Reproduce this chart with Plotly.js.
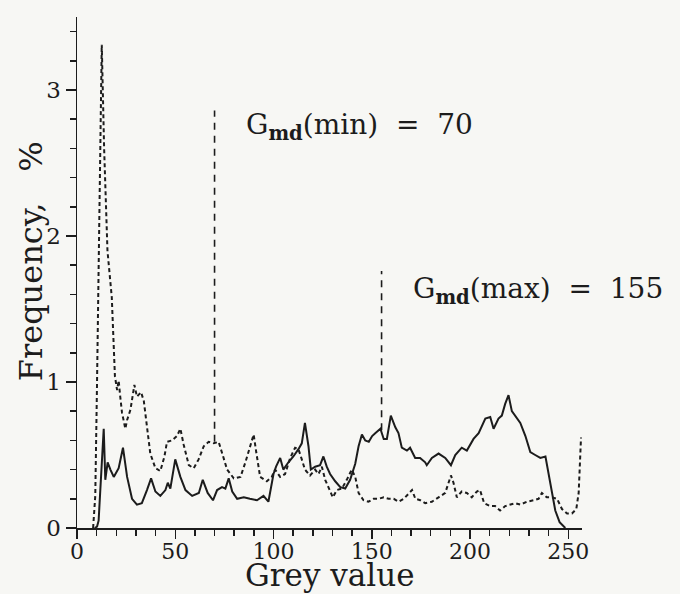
<!DOCTYPE html>
<html>
<head>
<meta charset="utf-8">
<script src="https://cdn.plot.ly/plotly-3.0.1.min.js"></script>
<style>html,body{margin:0;padding:0;background:#f7f7f4;}</style>
</head>
<body>
<div id="chart" style="width:680px;height:594px;"></div>
<script>
// Solid curve (grey value, frequency %)
const solidX = [9,10.2,11,12,13,13.6,14.4,15.6,17,18.7,21.2,23.4,25.5,28,30.5,33,35.6,37.7,39.9,42.4,45,46.2,47.5,50,52.6,55.2,58.6,62,64,66.5,69.2,71.3,73.8,75.5,77.2,79,81.5,84.9,88,91.6,94.9,97.4,100,101.3,103.4,105,107.6,110.1,112.7,114.4,116,117.8,119,121.2,123.7,125.4,127.1,128.8,131.4,134,136.5,139,141.6,143.3,145,146.7,148.5,150.2,151.9,154.4,156.1,157.7,159.7,162,163.6,165.3,167.9,169.5,172.1,174.6,177.2,178,180.6,184,187.4,190.3,192.5,195.8,198.4,201.8,204.4,207.8,210.3,212,214.5,216.2,217.9,219.6,221.3,223.9,225.6,228.2,230.7,233.2,235.8,238.4,240,241.7,243.4,245.6,248.5];
const solidY = [0,0.01,0.05,0.3,0.55,0.68,0.33,0.45,0.40,0.35,0.41,0.55,0.35,0.20,0.16,0.17,0.26,0.34,0.25,0.22,0.26,0.31,0.27,0.47,0.35,0.26,0.22,0.24,0.33,0.24,0.19,0.26,0.28,0.27,0.34,0.25,0.20,0.21,0.20,0.19,0.22,0.18,0.37,0.42,0.48,0.40,0.45,0.49,0.54,0.58,0.72,0.56,0.40,0.42,0.43,0.49,0.42,0.37,0.32,0.28,0.27,0.33,0.44,0.56,0.64,0.60,0.59,0.63,0.65,0.68,0.61,0.61,0.77,0.69,0.65,0.55,0.53,0.55,0.48,0.48,0.45,0.43,0.48,0.51,0.48,0.43,0.50,0.55,0.53,0.61,0.65,0.75,0.76,0.68,0.75,0.77,0.85,0.91,0.80,0.75,0.72,0.63,0.52,0.50,0.48,0.49,0.37,0.24,0.12,0.04,0.0];

// Dashed curve
const dashX = [8.2,9.3,10.2,11.4,12.6,13.8,15.1,15.5,17.7,19.3,20.4,21.2,22,22.9,24.6,25.5,27.2,29.2,30.5,32.6,34,35.6,37.3,39.9,42.4,44.5,45.8,48.4,50.9,52.6,54.3,56.9,59.4,61.9,64.5,67,69.6,72.1,73.8,76.4,79.8,83.2,85.7,88.3,89.9,91.1,93.2,96.6,99.1,100.8,103.4,105.9,108.5,111,112.7,114.4,116,118.6,121.2,122.9,124.6,126.3,128,130.2,132.2,134.8,137.3,139.8,141.6,143.3,145.8,148.3,150.9,153.5,156.1,158.6,161.2,163.7,166.3,168.8,170.5,172.2,174.7,177.2,180.6,184,187.4,190.3,191.6,193.3,195.8,198.4,200.9,203.5,205.1,207.2,210.2,212.8,215.3,217.9,220.4,223,225.6,229,232.3,234.9,236.6,239.1,241.7,244.3,246.8,249.4,251.9,254.1,255.3,256.5];
const dashY = [0,0.22,1.0,2.2,3.31,2.6,1.93,1.9,1.58,1.04,0.945,1.01,0.90,0.79,0.68,0.74,0.81,0.98,0.90,0.93,0.87,0.69,0.51,0.41,0.39,0.49,0.59,0.60,0.63,0.68,0.57,0.43,0.41,0.47,0.56,0.59,0.58,0.59,0.51,0.40,0.34,0.35,0.45,0.56,0.64,0.53,0.35,0.32,0.35,0.40,0.35,0.37,0.48,0.55,0.54,0.47,0.40,0.36,0.40,0.37,0.42,0.33,0.28,0.21,0.26,0.27,0.33,0.40,0.35,0.24,0.19,0.18,0.20,0.20,0.21,0.20,0.20,0.18,0.20,0.24,0.26,0.20,0.19,0.17,0.18,0.21,0.24,0.36,0.31,0.21,0.25,0.24,0.21,0.25,0.26,0.17,0.15,0.15,0.12,0.15,0.16,0.17,0.16,0.18,0.19,0.20,0.24,0.21,0.21,0.20,0.13,0.10,0.10,0.13,0.24,0.62];

// Marker lines for Gmd(min) and Gmd(max)
const markerX = [70, 155];
const markerBottom = [0.59, 0.67];
const markerTop = [2.86, 1.76];
const markerLabels = ["G<sub><b>md</b></sub>(min)  =  70", "G<sub><b>md</b></sub>(max)  =  155"];
const labelX = [85, 170];
const labelY = [2.75, 1.63];

const xTickVals = [0, 50, 100, 150, 200, 250];
const yTickVals = [0, 1, 2, 3];
const xTitle = 'Grey value';
const yTitle = 'Frequency,&nbsp;&nbsp;&nbsp;%';

const ink = '#1c1c1c';
const fontFam = 'DejaVu Serif, serif';

const traces = [
  {x: solidX, y: solidY, mode: 'lines', line: {color: ink, width: 2}, hoverinfo: 'skip'},
  {x: dashX, y: dashY, mode: 'lines', line: {color: ink, width: 2, dash: '4px,3px'}, hoverinfo: 'skip'},
];
markerX.forEach((mx, i) => {
  traces.push({x: [mx, mx], y: [markerBottom[i], markerTop[i]], mode: 'lines',
    line: {color: ink, width: 1.6, dash: '7px,6px'}, hoverinfo: 'skip'});
});

const annotations = markerLabels.map((t, i) => ({
  x: labelX[i], y: labelY[i], xref: 'x', yref: 'y', text: t, showarrow: false,
  xanchor: 'left', yanchor: 'middle', font: {family: fontFam, size: 28, color: ink}
}));
// axis titles placed as annotations for precise positioning
annotations.push({
  x: 0.5, y: -0.129, xref: 'paper', yref: 'paper', text: xTitle, showarrow: false,
  xanchor: 'center', yanchor: 'bottom', borderpad: 0, font: {family: fontFam, size: 31, color: ink}
});
annotations.push({
  x: -0.091, y: 0.522, xref: 'paper', yref: 'paper', text: yTitle, showarrow: false,
  textangle: -90, xanchor: 'center', yanchor: 'middle', font: {family: fontFam, size: 32, color: ink}
});

const layout = {
  width: 680, height: 594,
  margin: {l: 77, r: 98, t: 17, b: 66},
  paper_bgcolor: '#f7f7f4', plot_bgcolor: '#f7f7f4',
  showlegend: false,
  font: {family: fontFam, color: ink},
  xaxis: {
    range: [0, 257], showgrid: false, zeroline: false, showline: true, linecolor: ink, linewidth: 1.5,
    ticks: 'outside', ticklen: 9, tickwidth: 1.5, tickcolor: ink, ticklabelstandoff: -6,
    tickvals: xTickVals, tickfont: {family: fontFam, size: 22, color: ink},
    minor: {dtick: 10, tick0: 0, ticks: 'outside', ticklen: 6, tickwidth: 1.5, tickcolor: ink, showgrid: false},
    automargin: false
  },
  yaxis: {
    range: [0, 3.5], showgrid: false, zeroline: false, showline: true, linecolor: ink, linewidth: 1.5,
    ticks: 'outside', ticklen: 10, tickwidth: 1.5, tickcolor: ink,
    tickvals: yTickVals, tickfont: {family: fontFam, size: 23, color: ink},
    minor: {dtick: 0.2, tick0: 0, ticks: 'outside', ticklen: 6, tickwidth: 1.5, tickcolor: ink, showgrid: false},
    automargin: false
  },
  annotations: annotations
};

Plotly.newPlot('chart', traces, layout, {staticPlot: true, displayModeBar: false});
</script>
</body>
</html>
